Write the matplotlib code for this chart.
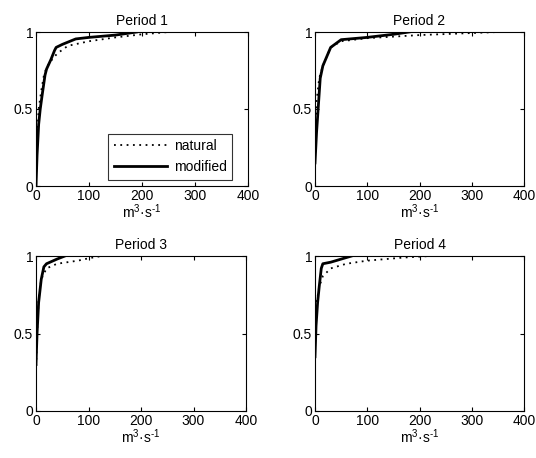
import matplotlib
matplotlib.use("Agg")
import matplotlib.pyplot as plt

plt.rcParams['font.family'] = ['Liberation Sans', 'DejaVu Sans']
plt.rcParams['mathtext.default'] = 'regular'
plt.rcParams['font.size'] = 10

titles = ["Period 1", "Period 2", "Period 3", "Period 4"]
series_names = ["natural", "modified"]

p1_nat_x = [0, 2, 5, 10, 15, 20, 30, 40, 60, 100, 150, 200, 250]
p1_nat_y = [0.05, 0.3, 0.5, 0.62, 0.72, 0.77, 0.82, 0.86, 0.91, 0.94, 0.965, 0.985, 1.0]
p1_mod_x = [0, 2, 5, 8, 12, 17, 20, 28, 35, 38, 50, 75, 100, 150, 190]
p1_mod_y = [0.0, 0.2, 0.4, 0.5, 0.6, 0.72, 0.76, 0.82, 0.88, 0.9, 0.92, 0.955, 0.965, 0.98, 1.0]

p2_nat_x = [0, 3, 8, 15, 30, 50, 100, 200, 350]
p2_nat_y = [0.3, 0.55, 0.7, 0.78, 0.9, 0.94, 0.96, 0.98, 1.0]
p2_mod_x = [0, 3, 6, 10, 15, 20, 30, 50, 100, 150, 180]
p2_mod_y = [0.15, 0.35, 0.5, 0.7, 0.78, 0.82, 0.9, 0.95, 0.965, 0.985, 1.0]

p3_nat_x = [0, 2, 5, 10, 20, 40, 80, 100, 125]
p3_nat_y = [0.25, 0.5, 0.72, 0.85, 0.92, 0.95, 0.97, 0.985, 1.0]
p3_mod_x = [0, 2, 5, 10, 15, 20, 40, 55]
p3_mod_y = [0.3, 0.5, 0.7, 0.85, 0.93, 0.95, 0.98, 1.0]

p4_nat_x = [0, 3, 8, 15, 30, 60, 100, 170, 220]
p4_nat_y = [0.5, 0.7, 0.8, 0.87, 0.92, 0.95, 0.97, 0.99, 1.0]
p4_mod_x = [0, 2, 5, 8, 12, 15, 30, 50, 70]
p4_mod_y = [0.35, 0.55, 0.7, 0.8, 0.92, 0.95, 0.96, 0.98, 1.0]

data = [
    (p1_nat_x, p1_nat_y, p1_mod_x, p1_mod_y),
    (p2_nat_x, p2_nat_y, p2_mod_x, p2_mod_y),
    (p3_nat_x, p3_nat_y, p3_mod_x, p3_mod_y),
    (p4_nat_x, p4_nat_y, p4_mod_x, p4_mod_y),
]

x_ticks = [0, 100, 200, 300, 400]
y_ticks = [0, 0.5, 1]
y_ticklabels = ["0", "0.5", "1"]
x_label = 'm$^{3}$·s$^{\u2010' + '1}$'

W, H = 536, 458
fig = plt.figure(figsize=(W / 100, H / 100), dpi=100)

boxes = [(36, 32, 248, 186), (315, 32, 524, 186),
         (36, 256, 246, 411), (315, 256, 524, 411)]

for i, (b, t, d) in enumerate(zip(boxes, titles, data)):
    l, tp, r, bt = b
    ax = fig.add_axes([l / W, 1 - bt / H, (r - l) / W, (bt - tp) / H])
    nx, ny, mx, my = d
    ax.plot(nx, ny, color='black', linestyle=(0, (1, 2.5)), linewidth=1.3, label=series_names[0])
    ax.plot(mx, my, color='black', linestyle='-', linewidth=2.0, label=series_names[1])
    ax.set_xlim(0, 400)
    ax.set_ylim(0, 1)
    ax.set_xticks(x_ticks)
    ax.set_yticks(y_ticks)
    ax.set_yticklabels(y_ticklabels)
    ax.tick_params(direction='in', top=True, right=True, length=3, width=0.8, pad=2, labelsize=10)
    for s in ax.spines.values():
        s.set_linewidth(0.8)
    ax.set_title(t, fontsize=10, pad=5)
    ax.set_xlabel(x_label, fontsize=10, labelpad=0)
    if i == 0:
        leg = ax.legend(loc='lower right', bbox_to_anchor=(0.925, 0.04),
                        fontsize=10, frameon=True, fancybox=False,
                        edgecolor='black', handlelength=3.8, borderaxespad=0,
                        labelspacing=0.5, handletextpad=0.5, borderpad=0.4)
        leg.get_frame().set_linewidth(0.8)

fig.savefig("out.png", dpi=100, facecolor='white')
